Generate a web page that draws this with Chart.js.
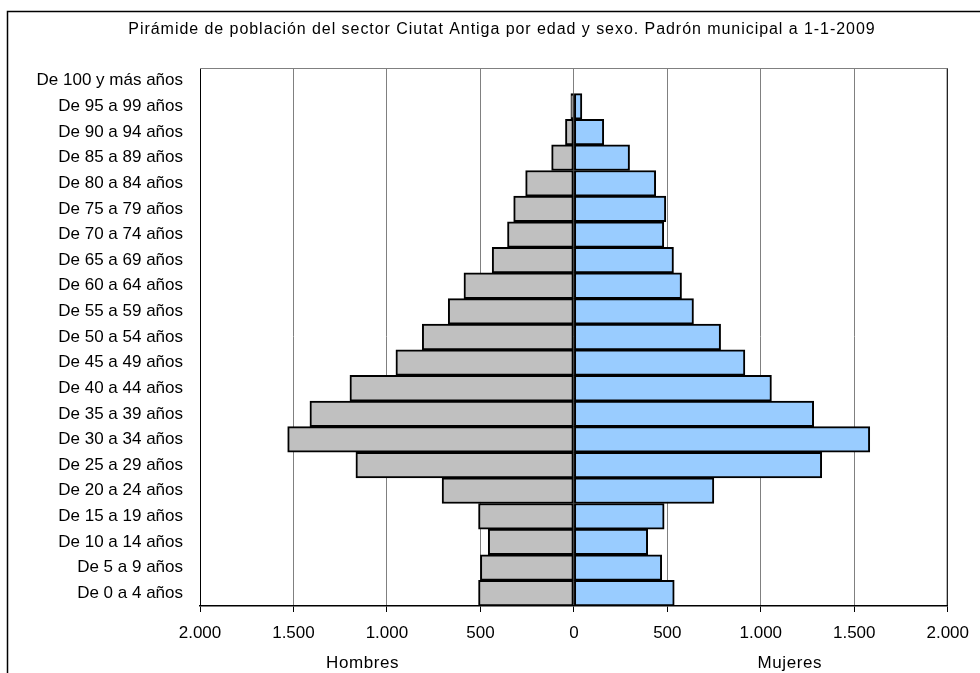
<!DOCTYPE html>
<html>
<head>
<meta charset="utf-8">
<script src="https://cdn.jsdelivr.net/npm/chart.js@4/dist/chart.umd.min.js"></script>
<style>
  html, body { margin: 0; padding: 0; background: #fff; }
  #wrap { position: relative; width: 980px; height: 673px; }
  canvas { display: block; }
</style>
</head>
<body>
<div id="wrap"><canvas id="c" width="980" height="673"></canvas></div>
<script>
const titleText = "Pirámide de población del sector Ciutat Antiga por edad y sexo. Padrón municipal a 1-1-2009";
const categories = [
  "De 100 y más años", "De 95 a 99 años", "De 90 a 94 años", "De 85 a 89 años",
  "De 80 a 84 años", "De 75 a 79 años", "De 70 a 74 años", "De 65 a 69 años",
  "De 60 a 64 años", "De 55 a 59 años", "De 50 a 54 años", "De 45 a 49 años",
  "De 40 a 44 años", "De 35 a 39 años", "De 30 a 34 años", "De 25 a 29 años",
  "De 20 a 24 años", "De 15 a 19 años", "De 10 a 14 años", "De 5 a 9 años",
  "De 0 a 4 años"
];
const hombres = [0, 16, 45, 119, 258, 322, 355, 437, 588, 672, 811, 952, 1198, 1412, 1531, 1166, 705, 510, 458, 500, 510];
const mujeres = [0, 43, 160, 298, 438, 492, 481, 533, 576, 640, 785, 915, 1057, 1283, 1583, 1326, 749, 483, 395, 470, 537];
const xTicks = [-2000, -1500, -1000, -500, 0, 500, 1000, 1500, 2000];
const axisTitles = ["Hombres", "Mujeres"];

const FONT = "'Liberation Sans', Arial, sans-serif";

function fmt(v) {
  const a = Math.abs(v);
  return a >= 1000 ? Math.floor(a / 1000) + "." + String(a % 1000).padStart(3, "0") : String(a);
}

const decor = {
  id: "decor",
  beforeDraw(chart) {
    const ctx = chart.ctx;
    ctx.save();
    ctx.fillStyle = "#fff";
    ctx.fillRect(0, 0, chart.width, chart.height);
    ctx.strokeStyle = "#000";
    ctx.lineWidth = 1.5;
    ctx.strokeRect(7.5, 11.5, 1100, 800);
    ctx.restore();
  },
  afterDraw(chart) {
    const ctx = chart.ctx;
    const a = chart.chartArea;
    const xs = chart.scales.x;
    ctx.save();
    ctx.strokeStyle = "#000";
    ctx.lineWidth = 1;
    ctx.beginPath();
    ctx.moveTo(a.left + 0.5, a.top); ctx.lineTo(a.left + 0.5, a.bottom);
    ctx.moveTo(a.right - 0.5, a.top); ctx.lineTo(a.right - 0.5, a.bottom);
    ctx.stroke();
    ctx.strokeStyle = "#808080";
    ctx.beginPath();
    ctx.moveTo(a.left, a.top + 0.5); ctx.lineTo(a.right, a.top + 0.5);
    ctx.stroke();
    ctx.fillStyle = "#000";
    ctx.textAlign = "center";
    ctx.textBaseline = "middle";
    ctx.letterSpacing = "0.95px";
    ctx.font = "16px " + FONT;
    ctx.fillText(titleText, 502, 30);
    ctx.letterSpacing = "0.6px";
    ctx.font = "17px " + FONT;
    ctx.fillText(axisTitles[0], xs.getPixelForValue(-1130), 663);
    ctx.fillText(axisTitles[1], xs.getPixelForValue(1155), 663);
    ctx.letterSpacing = "0px";
    ctx.restore();
  }
};

new Chart(document.getElementById("c"), {
  type: "bar",
  data: {
    labels: categories,
    datasets: [
      {
        label: axisTitles[0],
        data: hombres.map(v => -v),
        backgroundColor: "#C0C0C0",
        borderColor: "#000",
        borderWidth: 2,
        borderSkipped: false
      },
      {
        label: axisTitles[1],
        data: mujeres,
        backgroundColor: "#99CCFF",
        borderColor: "#000",
        borderWidth: 2,
        borderSkipped: false
      }
    ]
  },
  options: {
    indexAxis: "y",
    responsive: false,
    animation: false,
    maintainAspectRatio: false,
    layout: { padding: { left: 0, right: 32, top: 68, bottom: 0 } },
    datasets: { bar: { categoryPercentage: 1, barPercentage: 1 } },
    plugins: {
      legend: { display: false },
      title: { display: false },
      tooltip: { enabled: false }
    },
    scales: {
      x: {
        stacked: true,
        min: -2000,
        max: 2000,
        afterBuildTicks(scale) { scale.ticks = xTicks.map(v => ({ value: v })); },
        afterFit(scale) { scale.height = 67; },
        grid: {
          color: "#808080",
          lineWidth: 1,
          tickColor: "#000",
          tickLength: 6,
          drawTicks: true
        },
        border: { color: "#000", width: 1.5 },
        ticks: {
          color: "#000",
          font: { family: FONT, size: 17 },
          padding: 11,
          maxRotation: 0,
          autoSkip: false,
          callback: (v) => fmt(v)
        }
      },
      y: {
        stacked: true,
        afterFit(scale) { scale.width = 200; },
        grid: { display: false },
        border: { display: false },
        ticks: {
          color: "#000",
          font: { family: FONT, size: 17 },
          padding: 9,
          autoSkip: false
        }
      }
    }
  },
  plugins: [decor]
});
</script>
</body>
</html>
